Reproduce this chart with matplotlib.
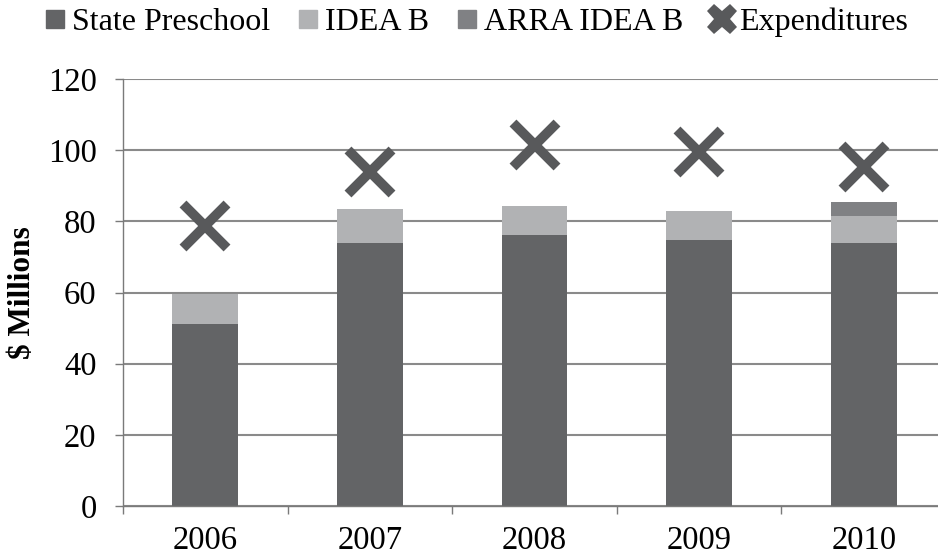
import matplotlib
matplotlib.use("Agg")
import matplotlib.pyplot as plt
from matplotlib.lines import Line2D
import numpy as np

years = ["2006", "2007", "2008", "2009", "2010"]
state_preschool = [51.1, 73.8, 76.2, 74.8, 73.8]
idea_b = [8.6, 9.6, 8.1, 8.0, 7.7]
arra_idea_b = [0.0, 0.0, 0.0, 0.0, 4.0]
expenditures = [78.7, 93.8, 101.5, 99.5, 95.4]

plt.rcParams['font.family'] = ['Liberation Serif', 'DejaVu Serif']

c_state = '#636466'
c_idea = '#b1b2b4'
c_arra = '#808184'
c_x = '#58595b'

fig = plt.figure(figsize=(9.38, 5.56), dpi=100)
ax = fig.add_axes([123/938, 1 - 506/556, (946 - 123)/938, (506 - 79)/556])

x = np.arange(len(years))
w = 0.4
ax.bar(x, state_preschool, w, color=c_state, zorder=2)
ax.bar(x, idea_b, w, bottom=state_preschool, color=c_idea, zorder=2)
bottom2 = [a + b for a, b in zip(state_preschool, idea_b)]
ax.bar(x, arra_idea_b, w, bottom=bottom2, color=c_arra, zorder=2)
ax.plot(x, expenditures, linestyle='none', marker='x', markersize=31,
        markeredgewidth=7, color=c_x, zorder=3)

ax.set_ylim(0, 120)
ax.set_xlim(-0.5, 4.5)
ax.set_yticks(range(0, 121, 20))
ax.yaxis.grid(True, color='#8a8a8a', linewidth=1.5, zorder=0)
ax.set_axisbelow(True)
ax.set_xticks(x)
ax.set_xticklabels(years)
ax.set_xticks(np.arange(-0.5, 4.6, 1), minor=True)
ax.tick_params(axis='x', which='major', length=0, labelsize=23.5, pad=14)
ax.tick_params(axis='x', which='minor', length=6, width=1, color='#7a7a7a', direction='out')
ax.tick_params(axis='y', length=6, width=1, color='#7a7a7a', labelsize=23.5, pad=13)
for s in ['top', 'right']:
    ax.spines[s].set_visible(False)
for s in ['left', 'bottom']:
    ax.spines[s].set_color('#7a7a7a')
    ax.spines[s].set_linewidth(1)
ax.set_ylabel('$ Millions', fontsize=22.5, fontweight='bold', labelpad=8)

handles = [
    Line2D([], [], linestyle='none', marker='s', markersize=12.5, color=c_state),
    Line2D([], [], linestyle='none', marker='s', markersize=12.5, color=c_idea),
    Line2D([], [], linestyle='none', marker='s', markersize=12.5, color=c_arra),
    Line2D([], [], linestyle='none', marker='X', markersize=22, color=c_x, markeredgewidth=0),
]
labels = ["State Preschool", "IDEA B", "ARRA IDEA B", "Expenditures"]
fig.legend(handles, labels, loc='center', bbox_to_anchor=(477/938, 1 - 22/556), ncol=4,
           frameon=False, fontsize=23, handlelength=0.55, handletextpad=0.25,
           columnspacing=0.92, borderaxespad=0, borderpad=0)

fig.savefig('out.png', dpi=100)
